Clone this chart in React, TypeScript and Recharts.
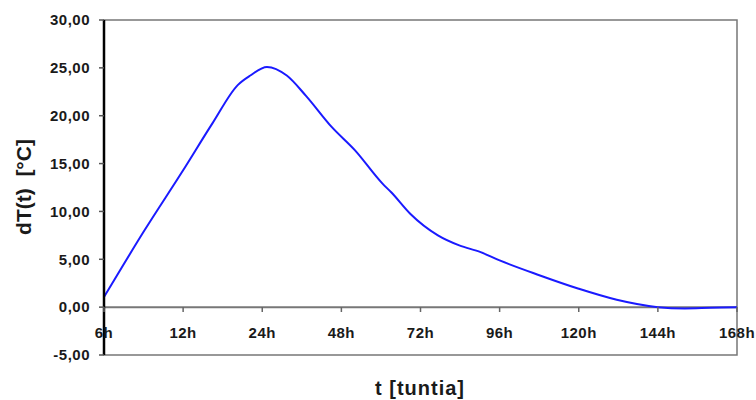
import { LineChart, Line, XAxis, YAxis, ReferenceLine, ReferenceArea } from "recharts";

// category labels on the x axis (equally spaced in the original chart)
const hourLabels = ["6h", "12h", "24h", "48h", "72h", "96h", "120h", "144h", "168h"];
const xTicks = hourLabels.map((_, i) => i);

// curve points, x in label positions (0 = 6h ... 8 = 168h)
const xPos = [0, 0.51, 1.0, 1.37, 1.69, 1.85, 2.06, 2.31, 2.55, 2.88, 3.17, 3.52, 3.63, 3.87, 4.22, 4.49, 4.76, 5.0, 5.51, 6.0, 6.48, 7.0, 7.34, 7.66, 8.0];
const dT = [1.05, 8.0, 14.3, 19.2, 23.2, 24.2, 25.1, 24.2, 22.1, 18.8, 16.4, 12.9, 12.0, 9.76, 7.5, 6.45, 5.75, 4.88, 3.31, 1.92, 0.77, 0, -0.14, -0.07, 0];

const yTicks = [-5, 0, 5, 10, 15, 20, 25, 30];

const data = xPos.map((x, i) => ({ x, dT: dT[i] }));

const fmt = (v: number) => v.toFixed(2).replace(".", ",");
const textColor = "#1a1a1a";
const font = "'Liberation Sans', Arial, sans-serif";

const XTick = ({ x, y, payload }: any) => (
  <g>
    <line x1={x} x2={x} y1={y - 48} y2={y - 43} stroke="#666" strokeWidth={1.5} />
    <text
      x={x}
      y={y - 17}
      textAnchor="middle"
      fill={textColor}
      fontSize={15}
      fontWeight="bold"
      fontFamily={font}
      letterSpacing={0.5}
    >
      {hourLabels[payload.value]}
    </text>
  </g>
);

const YTitle = () => (
  <text
    x={31}
    y={187}
    transform="rotate(-90 31 187)"
    textAnchor="middle"
    fill={textColor}
    fontSize={21}
    fontWeight="bold"
    fontFamily={font}
    style={{ whiteSpace: "pre" }}
  >
    {"dT(t)  [°C]"}
  </text>
);

export default function App() {
  return (
    <div>
      <style>{"body{margin:0;background:#fff}"}</style>
      <LineChart
        width={756}
        height={400}
        data={data}
        margin={{ top: 20, right: 19, bottom: 0, left: 0 }}
      >
        <ReferenceArea x1={0} x2={8} y1={-5} y2={30} fill="none" stroke="#777" strokeWidth={1.5} />
        <ReferenceLine y={0} stroke="#777" strokeWidth={2} />
        <XAxis
          dataKey="x"
          type="number"
          domain={[0, 8]}
          ticks={xTicks}
          height={45}
          axisLine={false}
          tickLine={false}
          tickSize={0}
          tickMargin={0}
          tick={<XTick />}
          interval={0}
        />
        <YAxis
          type="number"
          domain={[-5, 30]}
          ticks={yTicks}
          width={104}
          tickFormatter={fmt}
          axisLine={{ stroke: "#000", strokeWidth: 2.5 }}
          tickLine={{ stroke: "#555", strokeWidth: 1.5 }}
          tickSize={5}
          tickMargin={9}
          tick={{ fill: textColor, fontSize: 15, fontWeight: "bold", fontFamily: font, letterSpacing: 0.5 }}
          interval={0}
          label={<YTitle />}
        />
        <Line
          type="monotone"
          dataKey="dT"
          stroke="#1a1aff"
          strokeWidth={2}
          dot={false}
          isAnimationActive={false}
        />
        <text
          x={420}
          y={395}
          textAnchor="middle"
          fill={textColor}
          fontSize={20}
          fontWeight="bold"
          fontFamily={font}
          letterSpacing={1}
        >
          t [tuntia]
        </text>
      </LineChart>
    </div>
  );
}
